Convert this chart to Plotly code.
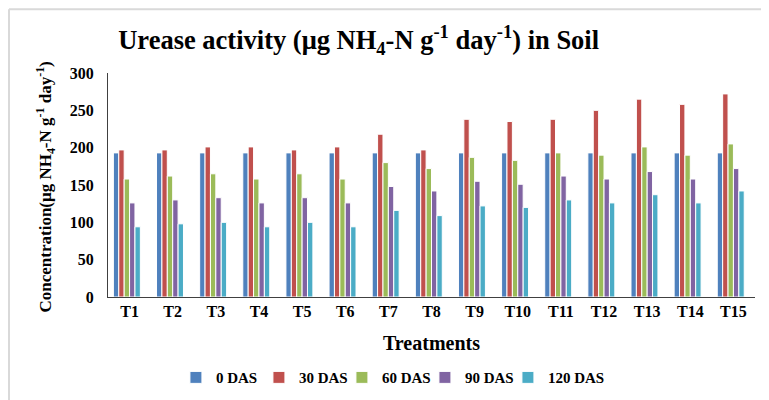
import plotly.graph_objects as go

treatments = ["T1", "T2", "T3", "T4", "T5", "T6", "T7", "T8",
              "T9", "T10", "T11", "T12", "T13", "T14", "T15"]

das_0 = [193, 193, 193, 193, 193, 193, 193, 193, 193, 193, 193, 193, 193, 193, 193]
das_30 = [197, 197, 201, 201, 197, 201, 218, 197, 238, 235, 238, 250, 265, 258, 272]
das_60 = [158, 162, 165, 158, 165, 158, 180, 172, 187, 183, 193, 190, 201, 190, 205]
das_90 = [126, 130, 133, 126, 133, 126, 148, 142, 155, 151, 162, 158, 168, 158, 172]
das_120 = [94, 98, 100, 94, 100, 94, 116, 109, 122, 120, 130, 126, 137, 126, 142]

series = [
    ("0 DAS", das_0, "#4F81BD"),
    ("30 DAS", das_30, "#C0504D"),
    ("60 DAS", das_60, "#9BBB59"),
    ("90 DAS", das_90, "#8064A2"),
    ("120 DAS", das_120, "#4BACC6"),
]

FONT = "Liberation Serif"

fig = go.Figure()
for name, vals, color in series:
    fig.add_trace(go.Bar(
        x=treatments, y=vals, name=name,
        marker=dict(color=color, line=dict(color="white", width=1)),
    ))
# empty legend slot so the last entry is not clipped
fig.add_trace(go.Bar(x=[None], y=[None], name="",
                     marker=dict(color="rgba(0,0,0,0)",
                                 line=dict(color="rgba(0,0,0,0)", width=0)),
                     hoverinfo="skip"))

fig.update_layout(
    width=769, height=400,
    paper_bgcolor="white", plot_bgcolor="white",
    barmode="group", bargap=0.25, bargroupgap=0,
    margin=dict(l=100, r=22, t=65, b=111, autoexpand=False),
    font=dict(family=FONT, color="black"),
    title=dict(
        text="<b>Urease activity (μg NH<sub>4</sub>-N g<sup>-1</sup> day<sup>-1</sup>) in Soil</b>",
        font=dict(family=FONT, size=26.5, color="black"),
        x=0.456, xref="container", xanchor="center",
        y=0.92, yref="container", yanchor="middle",
    ),
    xaxis=dict(
        showline=True, linecolor="#404040", linewidth=1,
        ticks="", showgrid=False,
        tickfont=dict(family=FONT, size=16, color="black", weight="bold"),
    ),
    yaxis=dict(
        range=[0, 300], dtick=50,
        showline=True, linecolor="#404040", linewidth=1,
        ticks="", showgrid=False, zeroline=False,
        tickfont=dict(family=FONT, size=16, color="black", weight="bold"),
        ticklabelstandoff=10,
    ),
    legend=dict(
        orientation="h", x=0.105, xanchor="left",
        y=-0.36, yanchor="middle",
        font=dict(family=FONT, size=15, color="black", weight="bold"),
        itemwidth=30, entrywidth=38, entrywidthmode="pixels",
        traceorder="normal",
    ),
)

# axis titles
fig.add_annotation(
    text="<b>Treatments</b>", xref="paper", yref="paper",
    x=0.5, y=-0.205, xanchor="center", yanchor="middle", showarrow=False,
    font=dict(family=FONT, size=20, color="black"),
)
fig.add_annotation(
    text="<b>Concentration(μg NH<sub>4</sub>-N g<sup>-1</sup> day<sup>-1</sup>)</b>",
    xref="paper", yref="paper", x=-0.097, y=0.49,
    xanchor="center", yanchor="middle", showarrow=False, textangle=-90,
    font=dict(family=FONT, size=17, color="black"),
)

# faint outer frame of the original figure
fig.add_shape(type="line", xref="paper", yref="paper",
              x0=-0.153, x1=1.04, y0=1.285, y1=1.285,
              line=dict(color="#d9d9d9", width=2))
fig.add_shape(type="line", xref="paper", yref="paper",
              x0=-0.153, x1=-0.153, y0=1.285, y1=-0.5,
              line=dict(color="#d9d9d9", width=2))

fig.write_html("out.html")
